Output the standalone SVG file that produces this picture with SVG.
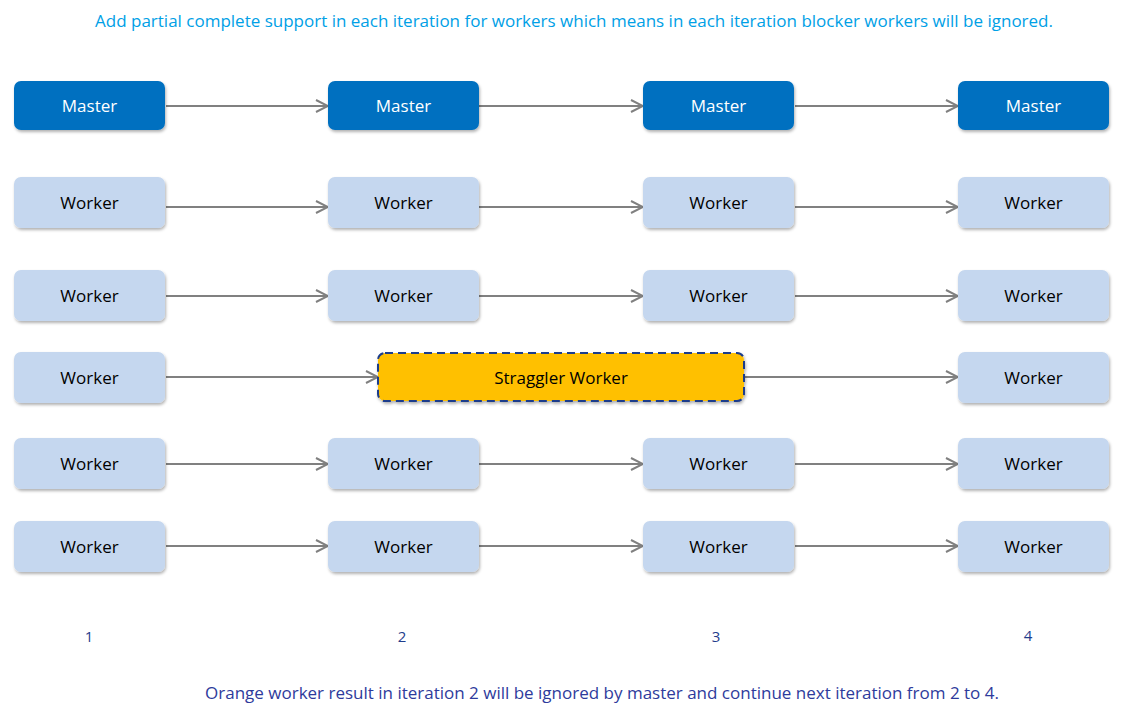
<svg xmlns="http://www.w3.org/2000/svg" width="1145" height="716" viewBox="0 0 1145 716">
<defs>
<style>
text{font-family:"Open Sans","Liberation Sans",sans-serif;text-anchor:middle;dominant-baseline:central}
.m rect{fill:#0070c0}
.m text{fill:#fff;font-size:17px}
.w rect{fill:#c5d7ef}
.w text{fill:#000;font-size:17px}
.c line{stroke:#808080;stroke-width:2;marker-end:url(#a)}
.n{fill:#1f3d8c;font-size:15px}
</style>
<marker id="a" markerWidth="14" markerHeight="14" refX="13" refY="7" orient="auto" markerUnits="userSpaceOnUse"><path d="M1,1 L13,7 L1,13" fill="none" stroke="#808080" stroke-width="2"/></marker>
<filter id="s" x="-10%" y="-20%" width="120%" height="150%"><feDropShadow dx="1" dy="2" stdDeviation="1.5" flood-color="#000" flood-opacity="0.3"/></filter>
</defs>
<rect width="1145" height="716" fill="#fff"/>
<text x="574" y="20" style="fill:#00a0e6;font-size:17px">Add partial complete support in each iteration for workers which means in each iteration blocker workers will be ignored.</text>
<g class="c">
<line x1="166" y1="106" x2="328" y2="106"/><line x1="479" y1="106" x2="643" y2="106"/><line x1="795" y1="106" x2="958" y2="106"/>
<line x1="166" y1="207" x2="328" y2="207"/><line x1="479" y1="207" x2="643" y2="207"/><line x1="795" y1="207" x2="958" y2="207"/>
<line x1="166" y1="296" x2="328" y2="296"/><line x1="479" y1="296" x2="643" y2="296"/><line x1="795" y1="296" x2="958" y2="296"/>
<line x1="166" y1="377" x2="378" y2="377"/><line x1="745" y1="377" x2="958" y2="377"/>
<line x1="166" y1="464" x2="328" y2="464"/><line x1="479" y1="464" x2="643" y2="464"/><line x1="795" y1="464" x2="958" y2="464"/>
<line x1="166" y1="546" x2="328" y2="546"/><line x1="479" y1="546" x2="643" y2="546"/><line x1="795" y1="546" x2="958" y2="546"/>
</g>
<g id="m1" class="m"><rect x="14" y="81" width="151" height="49" rx="7" filter="url(#s)"/><text x="89.5" y="105">Master</text></g>
<g id="m2" class="m"><rect x="328" y="81" width="151" height="49" rx="7" filter="url(#s)"/><text x="403.5" y="105">Master</text></g>
<g id="m3" class="m"><rect x="643" y="81" width="151" height="49" rx="7" filter="url(#s)"/><text x="718.5" y="105">Master</text></g>
<g id="m4" class="m"><rect x="958" y="81" width="151" height="49" rx="7" filter="url(#s)"/><text x="1033.5" y="105">Master</text></g>

<g id="w11" class="w"><rect x="14" y="177" width="151" height="51" rx="7" filter="url(#s)"/><text x="89.5" y="202">Worker</text></g>
<g id="w12" class="w"><rect x="328" y="177" width="151" height="51" rx="7" filter="url(#s)"/><text x="403.5" y="202">Worker</text></g>
<g id="w13" class="w"><rect x="643" y="177" width="151" height="51" rx="7" filter="url(#s)"/><text x="718.5" y="202">Worker</text></g>
<g id="w14" class="w"><rect x="958" y="177" width="151" height="51" rx="7" filter="url(#s)"/><text x="1033.5" y="202">Worker</text></g>

<g id="w21" class="w"><rect x="14" y="270" width="151" height="51" rx="7" filter="url(#s)"/><text x="89.5" y="295">Worker</text></g>
<g id="w22" class="w"><rect x="328" y="270" width="151" height="51" rx="7" filter="url(#s)"/><text x="403.5" y="295">Worker</text></g>
<g id="w23" class="w"><rect x="643" y="270" width="151" height="51" rx="7" filter="url(#s)"/><text x="718.5" y="295">Worker</text></g>
<g id="w24" class="w"><rect x="958" y="270" width="151" height="51" rx="7" filter="url(#s)"/><text x="1033.5" y="295">Worker</text></g>

<g id="w31" class="w"><rect x="14" y="352" width="151" height="51" rx="7" filter="url(#s)"/><text x="89.5" y="377">Worker</text></g>
<g id="straggler"><rect x="378" y="353" width="366" height="48" rx="7" fill="#ffc000" stroke="#1f3d8c" stroke-width="2" stroke-dasharray="8,5" filter="url(#s)"/><text x="561" y="377" style="font-size:17px;fill:#000">Straggler Worker</text></g>
<g id="w34" class="w"><rect x="958" y="352" width="151" height="51" rx="7" filter="url(#s)"/><text x="1033.5" y="377">Worker</text></g>

<g id="w41" class="w"><rect x="14" y="438" width="151" height="51" rx="7" filter="url(#s)"/><text x="89.5" y="463">Worker</text></g>
<g id="w42" class="w"><rect x="328" y="438" width="151" height="51" rx="7" filter="url(#s)"/><text x="403.5" y="463">Worker</text></g>
<g id="w43" class="w"><rect x="643" y="438" width="151" height="51" rx="7" filter="url(#s)"/><text x="718.5" y="463">Worker</text></g>
<g id="w44" class="w"><rect x="958" y="438" width="151" height="51" rx="7" filter="url(#s)"/><text x="1033.5" y="463">Worker</text></g>

<g id="w51" class="w"><rect x="14" y="521" width="151" height="51" rx="7" filter="url(#s)"/><text x="89.5" y="546">Worker</text></g>
<g id="w52" class="w"><rect x="328" y="521" width="151" height="51" rx="7" filter="url(#s)"/><text x="403.5" y="546">Worker</text></g>
<g id="w53" class="w"><rect x="643" y="521" width="151" height="51" rx="7" filter="url(#s)"/><text x="718.5" y="546">Worker</text></g>
<g id="w54" class="w"><rect x="958" y="521" width="151" height="51" rx="7" filter="url(#s)"/><text x="1033.5" y="546">Worker</text></g>

<text class="n" x="89" y="636">1</text>
<text class="n" x="402" y="636">2</text>
<text class="n" x="716" y="636">3</text>
<text class="n" x="1028" y="635">4</text>
<text x="602" y="692" style="fill:#2e3b9c;font-size:17px">Orange worker result in iteration 2 will be ignored by master and continue next iteration from 2 to 4.</text>
</svg>
